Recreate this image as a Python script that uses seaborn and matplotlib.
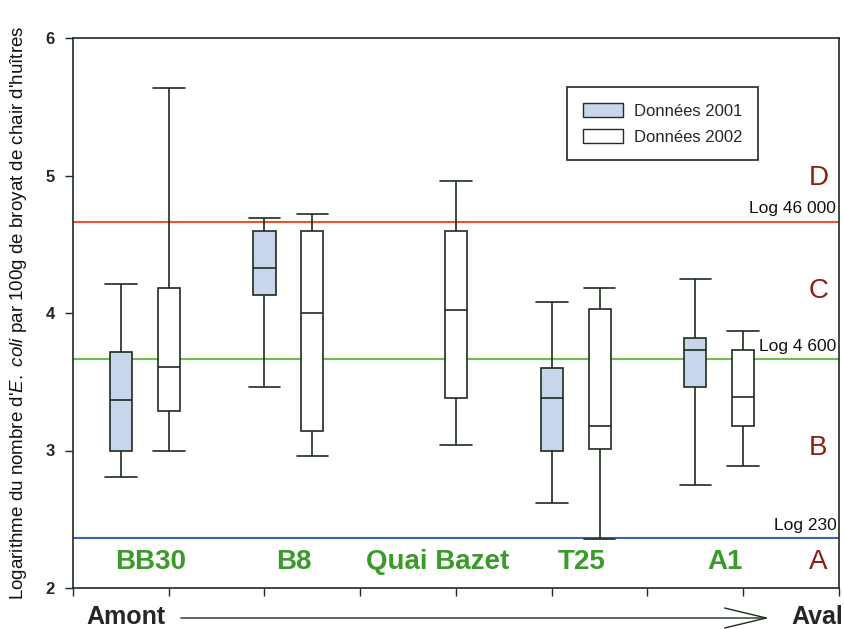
import numpy as np
import pandas as pd
import matplotlib
matplotlib.use("Agg")
import matplotlib.pyplot as plt
from matplotlib.patches import Patch
import seaborn as sns

# Sites from upstream (Amont) to downstream (Aval)
sites = ["BB30", "B8", "Quai Bazet", "T25", "A1"]
years = ["2001", "2002"]

# five-number summaries: min, Q1, median, Q3, max (log10 E. coli / 100 g)
bb30_2001 = [2.81, 3.00, 3.37, 3.72, 4.21]
bb30_2002 = [3.00, 3.29, 3.61, 4.18, 5.64]
b8_2001 = [3.46, 4.13, 4.33, 4.60, 4.69]
b8_2002 = [2.96, 3.14, 4.00, 4.60, 4.72]
quai_2002 = [3.04, 3.38, 4.02, 4.60, 4.96]
t25_2001 = [2.62, 3.00, 3.38, 3.60, 4.08]
t25_2002 = [2.36, 3.01, 3.18, 4.03, 4.18]
a1_2001 = [2.75, 3.46, 3.73, 3.82, 4.25]
a1_2002 = [2.89, 3.18, 3.39, 3.73, 3.87]

# regulatory thresholds (E. coli / 100 g)
thresholds = [230, 4600, 46000]
threshold_labels = ["Log 230", "Log 4 600", "Log 46 000"]
threshold_colors = ["#3b5fc4", "#6cc04a", "#e8542c"]

# quality classes
classes = ["A", "B", "C", "D"]
class_y = [2.19, 3.02, 4.16, 4.98]

series = {
    ("BB30", "2001"): bb30_2001, ("BB30", "2002"): bb30_2002,
    ("B8", "2001"): b8_2001, ("B8", "2002"): b8_2002,
    ("Quai Bazet", "2002"): quai_2002,
    ("T25", "2001"): t25_2001, ("T25", "2002"): t25_2002,
    ("A1", "2001"): a1_2001, ("A1", "2002"): a1_2002,
}
rows = []
for (site, year), vals in series.items():
    for v in vals:
        rows.append({"site": site, "year": year, "value": v})
df = pd.DataFrame(rows)

sns.set_theme(style="white")
plt.rcParams["font.family"] = ["Liberation Sans", "DejaVu Sans"]
plt.rcParams["mathtext.fontset"] = "custom"
plt.rcParams["mathtext.rm"] = "Liberation Sans"
plt.rcParams["mathtext.it"] = "Liberation Sans:italic"

dark = "#1c2e1c"
green_txt = "#3a9a2a"
red_txt = "#8e1e12"
fills = {"2001": "#c9d5ea", "2002": "white"}

fig, ax = plt.subplots(figsize=(8.45, 6.29), dpi=100)
fig.subplots_adjust(left=73/845, right=839/845, top=1-38/629, bottom=1-588/629)

sns.boxplot(data=df, x="site", y="value", hue="year", order=sites, hue_order=years,
            palette=fills, saturation=1, width=0.667, gap=0.54, whis=(0, 100),
            linecolor=dark, linewidth=1.2, legend=False, capwidths=0.22, ax=ax)

# threshold lines
for t, lab, c in zip(thresholds, threshold_labels, threshold_colors):
    ax.axhline(np.log10(t), color=c, lw=1.5, zorder=1)
    ax.text(4.815, np.log10(t) + 0.04, lab, ha="right", va="bottom", fontsize=12.5, color="#111111")

# site names inside the plot
for i, s in enumerate(sites):
    ax.text(i + 0.04, 2.19, s, ha="center", va="center", fontsize=20,
            fontweight="bold", color=green_txt)

# class letters on the right
for c, y in zip(classes, class_y):
    ax.text(4.69, y, c, ha="center", va="center", fontsize=20, color=red_txt)

ax.set_xlim(-0.5, 4.8333)
ax.set_ylim(2, 6)
ax.set_xticks(np.arange(-0.5, 4.9, 2/3), labels=[])
ax.set_yticks([2, 3, 4, 5, 6], labels=["2", "3", "4", "5", "6"], fontsize=12, fontweight="bold")
ax.tick_params(direction="out", length=6, width=1, color=dark, pad=7, left=True, bottom=True)
for sp in ax.spines.values():
    sp.set_visible(True)
    sp.set_color(dark)
    sp.set_linewidth(1.2)

ax.set_xlabel("")
ax.set_ylabel("Logarithme du nombre d'$\\mathit{E.\\ coli}$ par 100g de broyat de chair d'huîtres",
              fontsize=13.5, color="#111111")
ax.yaxis.set_label_coords(-0.058, 0.5)

handles = [Patch(facecolor=fills[y], edgecolor=dark, lw=1) for y in years]
leg = ax.legend(handles, ["Données 2001", "Données 2002"], loc="upper left",
                bbox_to_anchor=(0.645, 0.911), fontsize=12, frameon=True, fancybox=False,
                framealpha=1, edgecolor=dark, handlelength=2.4, handleheight=0.95,
                labelspacing=0.6, borderpad=0.95, handletextpad=0.65, borderaxespad=0)
leg.get_frame().set_linewidth(1.2)

# Amont -> Aval
fig.text(86/845, 1 - 617/629, "Amont", ha="left", va="center", fontsize=18, fontweight="bold")
fig.text(843/845, 1 - 617/629, "Aval", ha="right", va="center", fontsize=18, fontweight="bold")
ax.annotate("", xy=(772/845, 1 - 618/629), xytext=(178/845, 1 - 618/629),
            xycoords="figure fraction", textcoords="figure fraction",
            arrowprops=dict(arrowstyle="->, head_length=2.5, head_width=0.6",
                            color=dark, lw=1))

plt.savefig("out.png", dpi=100)
